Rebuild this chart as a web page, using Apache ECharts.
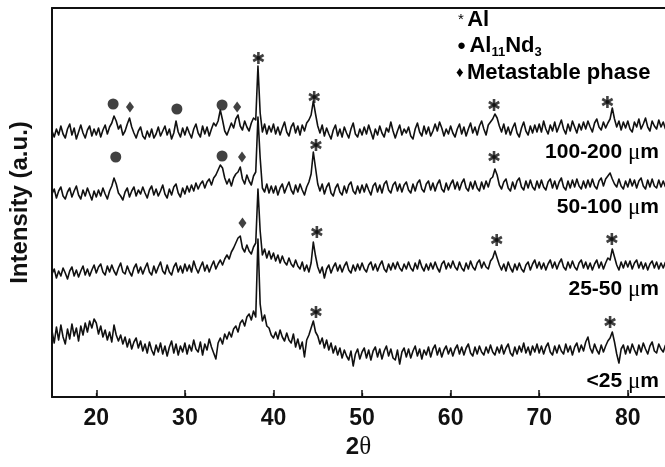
<!DOCTYPE html>
<html><head><meta charset="utf-8">
<script src="https://cdn.jsdelivr.net/npm/echarts@6/dist/echarts.min.js"></script>
<style>html,body{margin:0;padding:0;background:#fff}#c{width:665px;height:467px}</style>
</head><body><div id="c"></div>
<script>
// 2-theta sampling: start and step (degrees)
const thetaStart = 15, thetaStep = 0.25;
const xTicks = [20, 30, 40, 50, 60, 70, 80];

// Intensities (a.u., traces offset vertically as in the figure)
const s100_200 = [
266,260,268,262,271,263,259,268,273,262,269,258,265,272,264,259,267,271,261,268,
262,269,260,267,272,263,270,274,281,276,268,272,262,266,273,279,270,264,259,266,
270,261,258,266,260,268,259,263,270,261,266,271,262,268,258,264,276,265,260,269,
262,270,264,259,268,273,264,260,271,263,270,261,268,274,271,276,287,277,266,262,
268,274,269,278,282,271,267,276,270,266,274,279,277,331,284,265,273,263,271,265,
273,263,270,262,269,275,265,261,270,274,264,271,262,272,266,274,277,282,296,283,
271,264,272,261,269,263,258,267,272,261,268,260,270,264,259,268,274,263,260,268,
262,270,263,272,265,258,268,262,271,264,260,269,265,275,266,259,266,272,262,268,
264,270,261,258,268,274,265,261,271,263,270,261,266,273,266,275,269,261,268,263,
271,264,260,268,273,263,270,261,268,274,264,270,262,271,276,268,262,272,275,278,
283,279,271,265,273,263,270,262,269,274,264,260,269,275,266,262,271,264,272,265,
273,265,276,268,263,272,266,275,265,271,277,268,263,273,266,276,270,264,273,267,
275,268,276,270,265,274,278,270,267,275,269,274,278,289,278,270,276,267,275,269,
276,268,265,275,270,278,268,273,279,270,266,276,271,268,277,270,275,268];
const s50_100 = [
203,208,199,206,210,201,198,205,209,200,206,211,202,198,207,201,209,203,197,206,
200,207,201,209,203,198,206,211,219,213,204,201,197,205,209,200,206,210,201,207,
203,210,204,199,207,211,202,208,201,206,212,203,199,208,202,210,213,204,200,209,
203,211,205,212,206,214,208,213,216,209,215,218,212,219,222,227,232,229,219,213,
218,211,219,223,225,230,218,213,222,216,212,221,225,280,239,209,205,213,204,211,
204,211,202,209,213,204,210,215,207,203,212,205,213,207,202,210,215,223,245,229,
213,206,213,203,210,214,204,201,209,213,205,202,211,204,212,215,206,203,211,204,
212,205,213,207,202,211,214,205,212,204,213,216,207,204,212,215,206,213,205,212,
215,207,204,213,206,214,217,208,205,213,216,207,214,206,213,217,208,205,214,207,
213,217,208,215,207,214,218,209,206,215,208,216,209,206,215,208,216,210,218,220,
228,222,212,208,215,218,209,206,215,208,216,219,210,207,216,209,217,210,207,216,
209,217,210,207,215,218,209,216,208,215,219,210,207,216,209,217,210,218,211,208,
216,209,217,210,218,211,208,216,219,211,218,221,224,218,213,210,218,211,208,216,
210,218,211,217,209,216,219,211,208,217,210,218,211,209,217,210,216,210];
const s25_50 = [
123,128,119,126,121,129,124,118,126,130,121,127,120,126,131,122,128,121,127,132,
124,130,133,125,122,131,125,132,126,122,129,134,125,123,131,125,121,129,133,124,
130,123,129,134,125,122,131,124,130,135,126,123,132,125,122,130,134,125,131,124,
133,126,132,125,136,129,124,130,135,126,132,125,131,136,128,133,137,132,138,142,
138,145,149,154,159,161,149,145,152,146,143,150,154,208,166,142,148,139,146,138,
144,136,142,134,141,135,132,139,133,130,137,131,128,135,126,132,125,134,155,141,
130,124,130,119,128,132,124,130,134,126,132,125,131,135,127,124,132,126,133,127,
134,128,125,132,135,127,133,126,132,136,128,125,133,127,134,128,135,129,126,133,
128,135,129,126,134,128,137,130,126,133,127,134,128,135,129,125,133,136,128,134,
129,136,130,127,135,129,126,134,128,136,130,127,134,137,129,135,130,128,136,139,
146,139,132,127,133,126,135,129,125,133,127,134,128,125,132,135,127,133,137,129,
135,128,134,127,133,137,129,135,128,134,138,130,127,135,129,136,130,127,134,137,
129,135,128,134,127,133,137,129,135,128,134,139,137,148,140,132,127,135,129,136,
130,136,128,134,137,129,135,128,134,127,133,136,129,135,128,134,129,135];
const s25 = [
66,54,70,57,72,60,53,68,58,73,61,69,56,71,62,74,65,76,69,78,
74,63,71,60,67,57,65,55,72,62,56,62,53,60,50,58,48,55,59,49,
56,46,53,44,55,47,42,52,45,54,43,51,41,50,56,44,53,42,51,45,
54,43,52,46,57,48,45,55,42,53,47,58,50,44,38,54,59,53,63,58,
65,60,68,71,65,74,77,71,80,83,77,86,80,158,93,76,82,71,69,62,
59,65,58,67,60,56,64,57,54,63,50,58,48,55,40,57,62,69,76,65,
61,53,59,49,57,47,54,44,51,42,49,39,47,41,37,46,31,43,48,38,
45,49,39,47,37,46,50,40,48,38,46,51,41,48,39,37,47,33,45,49,
40,48,39,46,51,41,48,38,47,42,50,40,48,52,42,49,40,47,51,43,
49,41,48,52,43,50,42,49,53,44,41,50,43,51,45,42,50,44,52,45,
42,50,44,52,43,49,53,44,41,50,43,51,45,54,44,50,42,51,45,53,
44,51,43,50,54,45,42,51,44,52,46,43,53,45,51,42,50,54,45,52,
46,55,60,49,44,53,47,43,52,45,51,56,59,65,55,43,34,48,52,43,
51,44,53,47,42,52,45,54,48,43,51,55,46,44,53,48,45,52];

// Peak markers [2theta, height]
const alStars = [[38.3,339],[44.6,300],[64.9,292],[77.7,295],[44.8,252],[64.9,240],[44.9,165],[65.2,157],[78.2,158],[44.8,85],[78.0,75]];
const al11nd3Dots = [[21.9,293],[29.1,288],[34.2,292],[22.2,240],[34.2,241]];
const metaDiamonds = [[23.8,290],[35.9,290],[36.45,240],[36.5,174]];

const sampleNames = ['100-200 ', '50-100 ', '25-50 ', '<25 '];

function pairs(arr){ return arr.map((v,i)=>[thetaStart + i*thetaStep, v]); }

const SANS = '"Liberation Sans", Arial, Helvetica, sans-serif';
const SERIF = '"Liberation Serif", "Times New Roman", serif';

const chart = echarts.init(document.getElementById('c'), null, {renderer:'canvas'});
const lineStyle = {color:'#111', width:1.6, join:'round'};
const mkLine = (d)=>({type:'line', data:pairs(d), showSymbol:false, symbol:'none', lineStyle, animation:false, z:3});
const mkStar = (rot)=>({type:'scatter', data:alStars, symbol:'rect', symbolSize:[2.6,12], symbolRotate:rot, itemStyle:{color:'#111'}, z:4, silent:true});

const richMu = {
  b:{fontFamily:SANS, fontWeight:'bold', fontSize:21, color:'#111'},
  mu:{fontFamily:SERIF, fontSize:23, color:'#111'}
};
const labelY = [153, 208, 290, 382];
const graphics = sampleNames.map((n,i)=>({
  type:'text', right:6, top:labelY[i]-12,
  style:{text:'{b|'+n+'}{mu|μ}{b|m}', rich:richMu}
}));
const legRich = {
  b:{fontFamily:SANS, fontWeight:'bold', fontSize:22, color:'#111'},
  s:{fontFamily:SANS, fontWeight:'bold', fontSize:13, color:'#111', padding:[12,0,0,0]},
  m:{fontFamily:SANS, fontSize:15, color:'#111'}
};
graphics.push({type:'text', left:458, top:9, style:{text:'{m|*} {b|Al}', rich:legRich}});
graphics.push({type:'text', left:457, top:35, style:{text:'{m|●} {b|Al}{s|11}{b|Nd}{s|3}', rich:legRich}});
graphics.push({type:'text', left:456, top:62, style:{text:'{m|♦} {b|Metastable phase}', rich:legRich}});

chart.setOption({
  animation:false,
  grid:{left:50, right:0, top:8, bottom:70},
  xAxis:[{
    type:'value', min:15, max:84.2, interval:10,
    axisLine:{show:true, lineStyle:{color:'#111', width:2}},
    axisTick:{show:true, inside:true, length:7, lineStyle:{color:'#111', width:1.5},
      customValues: xTicks},
    minorTick:{show:true, splitNumber:2, length:4, lineStyle:{color:'#111', width:1.3}},
    axisLabel:{customValues: xTicks, fontFamily:SANS, fontWeight:'bold', fontSize:23, color:'#111', margin:10},
    splitLine:{show:false},
    name:'{b|2}{t|θ}', nameLocation:'middle', nameGap:38,
    nameTextStyle:{rich:{b:{fontFamily:SANS, fontWeight:'bold', fontSize:24, color:'#111'}, t:{fontFamily:SERIF, fontSize:25, color:'#111'}}}
  },{
    type:'value', position:'top', min:15, max:84.2,
    axisLine:{show:true, lineStyle:{color:'#111', width:2}},
    axisTick:{show:false}, axisLabel:{show:false}, splitLine:{show:false}
  }],
  yAxis:{
    type:'value', min:0, max:389,
    axisLine:{show:true, lineStyle:{color:'#111', width:2}},
    axisTick:{show:false}, axisLabel:{show:false}, splitLine:{show:false},
    name:'Intensity (a.u.)', nameLocation:'middle', nameGap:20,
    nameTextStyle:{fontFamily:SANS, fontWeight:'bold', fontSize:24, color:'#111'}
  },
  series:[
    mkLine(s100_200), mkLine(s50_100), mkLine(s25_50), mkLine(s25),
    mkStar(0), mkStar(60), mkStar(-60),
    {type:'scatter', data:al11nd3Dots, symbol:'circle', symbolSize:11, itemStyle:{color:'#111'}, z:4},
    {type:'scatter', data:metaDiamonds, symbol:'diamond', symbolSize:[8,11], itemStyle:{color:'#111'}, z:4}
  ],
  graphic:graphics
});
</script></body></html>
